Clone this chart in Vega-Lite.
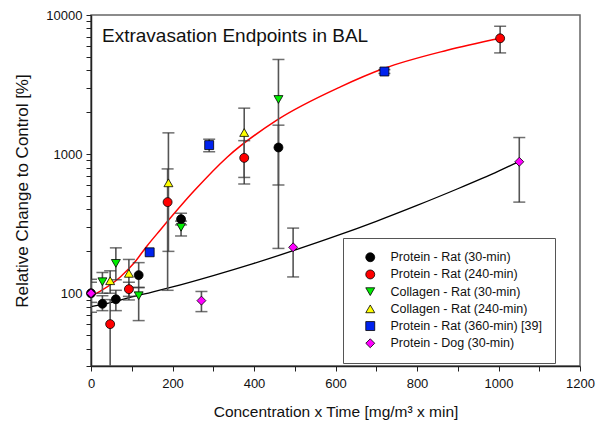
{
  "$schema": "https://vega.github.io/schema/vega-lite/v6.json",
  "width": 489,
  "height": 351,
  "autosize": {"type": "none"},
  "padding": {"left": 91, "top": 15, "right": 16, "bottom": 59},
  "background": "white",
  "title": {"text": "Extravasation Endpoints in BAL", "anchor": "start", "frame": "group", "orient": "top", "offset": -52, "baseline": "alphabetic", "dx": 11, "fontSize": 19, "fontWeight": "normal", "font": "Liberation Sans", "color": "#111"},
  "config": {
    "view": {"stroke": "#666", "strokeWidth": 1.5},
    "font": "Liberation Sans",
    "axis": {"labelFont": "Liberation Sans", "titleFont": "Liberation Sans", "labelColor": "#111", "titleColor": "#111", "titleFontWeight": "normal", "domainColor": "#222", "tickColor": "#222", "grid": false, "domainWidth": 1.5}
  },
  "datasets": {
    "pts": [
      {"series": "Protein - Rat (30-min)", "x": 0, "y": 100, "lo": 86, "hi": 120},
      {"series": "Protein - Rat (30-min)", "x": 28, "y": 84, "lo": 75, "hi": 96},
      {"series": "Protein - Rat (30-min)", "x": 61, "y": 90.5, "lo": 75, "hi": 105},
      {"series": "Protein - Rat (30-min)", "x": 117, "y": 135, "lo": 110, "hi": 166},
      {"series": "Protein - Rat (30-min)", "x": 221, "y": 341, "lo": 310, "hi": 376},
      {"series": "Protein - Rat (30-min)", "x": 460, "y": 1116, "lo": 600, "hi": 1615},
      {"series": "Protein - Rat (240-min)", "x": 47, "y": 60, "lo": 20, "hi": 90},
      {"series": "Protein - Rat (240-min)", "x": 93, "y": 107, "lo": 95, "hi": 120},
      {"series": "Protein - Rat (240-min)", "x": 188, "y": 452, "lo": 105, "hi": 783},
      {"series": "Protein - Rat (240-min)", "x": 376, "y": 940, "lo": 610, "hi": 1250},
      {"series": "Protein - Rat (240-min)", "x": 1004, "y": 6800, "lo": 5340, "hi": 8300},
      {"series": "Collagen - Rat (30-min)", "x": 28, "y": 121, "lo": 100, "hi": 141},
      {"series": "Collagen - Rat (30-min)", "x": 61, "y": 164, "lo": 125, "hi": 212},
      {"series": "Collagen - Rat (30-min)", "x": 117, "y": 96, "lo": 63.6, "hi": 110},
      {"series": "Collagen - Rat (30-min)", "x": 221, "y": 298, "lo": 258, "hi": 330},
      {"series": "Collagen - Rat (30-min)", "x": 460, "y": 2470, "lo": 210, "hi": 4790},
      {"series": "Collagen - Rat (240-min)", "x": 47, "y": 123, "lo": 100, "hi": 145},
      {"series": "Collagen - Rat (240-min)", "x": 93, "y": 139, "lo": 89.5, "hi": 175},
      {"series": "Collagen - Rat (240-min)", "x": 190, "y": 622, "lo": 200, "hi": 1422},
      {"series": "Collagen - Rat (240-min)", "x": 376, "y": 1430, "lo": 680, "hi": 2140},
      {"series": "Protein - Rat (360-min) [39]", "x": 144, "y": 197},
      {"series": "Protein - Rat (360-min) [39]", "x": 290, "y": 1161, "lo": 1040, "hi": 1280},
      {"series": "Protein - Rat (360-min) [39]", "x": 720, "y": 3925, "lo": 3800, "hi": 4050},
      {"series": "Protein - Dog (30-min)", "x": 0, "y": 100, "lo": 73, "hi": 126},
      {"series": "Protein - Dog (30-min)", "x": 271, "y": 88.5, "lo": 73.8, "hi": 103},
      {"series": "Protein - Dog (30-min)", "x": 496, "y": 214, "lo": 131, "hi": 294},
      {"series": "Protein - Dog (30-min)", "x": 1051, "y": 881, "lo": 452, "hi": 1316}
    ],
    "curves": [
      {"fit": "red", "x": 0, "y": 95}, {"fit": "red", "x": 72, "y": 131}, {"fit": "red", "x": 105, "y": 164},
      {"fit": "red", "x": 137, "y": 218}, {"fit": "red", "x": 170, "y": 285}, {"fit": "red", "x": 252, "y": 540},
      {"fit": "red", "x": 334, "y": 950}, {"fit": "red", "x": 456, "y": 1754},
      {"fit": "red", "x": 612, "y": 3042}, {"fit": "red", "x": 718, "y": 4120},
      {"fit": "red", "x": 874, "y": 5580}, {"fit": "red", "x": 1004, "y": 6810},
      {"fit": "black", "x": 0, "y": 80}, {"fit": "black", "x": 50, "y": 86}, {"fit": "black", "x": 100, "y": 94},
      {"fit": "black", "x": 150, "y": 102}, {"fit": "black", "x": 200, "y": 111}, {"fit": "black", "x": 300, "y": 134},
      {"fit": "black", "x": 400, "y": 164}, {"fit": "black", "x": 500, "y": 204}, {"fit": "black", "x": 600, "y": 257},
      {"fit": "black", "x": 700, "y": 329}, {"fit": "black", "x": 800, "y": 428}, {"fit": "black", "x": 900, "y": 564},
      {"fit": "black", "x": 1000, "y": 755}, {"fit": "black", "x": 1049, "y": 881}
    ]
  },
  "layer": [
    {
      "mark": {"type": "rule", "color": "#555", "strokeWidth": 1.3, "strokeDash": [11, 5]},
      "encoding": {"y": {"datum": 100, "type": "quantitative", "scale": {"type": "log", "domain": [30, 10000], "nice": false}}}
    },
    {
      "data": {"name": "curves"},
      "transform": [{"filter": "datum.fit === 'red'"}],
      "mark": {"type": "line", "color": "#ff0000", "strokeWidth": 1.5, "interpolate": "monotone"},
      "encoding": {
        "x": {"field": "x", "type": "quantitative"},
        "y": {"field": "y", "type": "quantitative"}
      }
    },
    {
      "data": {"name": "curves"},
      "transform": [{"filter": "datum.fit === 'black'"}],
      "mark": {"type": "line", "color": "#000000", "strokeWidth": 1.3, "interpolate": "monotone"},
      "encoding": {
        "x": {"field": "x", "type": "quantitative"},
        "y": {"field": "y", "type": "quantitative"}
      }
    },
    {
      "data": {"name": "pts"},
      "mark": {"type": "rule", "color": "#555", "strokeWidth": 1.6, "clip": true},
      "encoding": {
        "x": {"field": "x", "type": "quantitative"},
        "y": {"field": "lo", "type": "quantitative"},
        "y2": {"field": "hi"}
      }
    },
    {
      "data": {"name": "pts"},
      "mark": {"type": "tick", "color": "#333", "orient": "horizontal", "size": 12, "thickness": 1.5, "clip": true},
      "encoding": {
        "x": {"field": "x", "type": "quantitative"},
        "y": {"field": "lo", "type": "quantitative"}
      }
    },
    {
      "data": {"name": "pts"},
      "mark": {"type": "tick", "color": "#333", "orient": "horizontal", "size": 12, "thickness": 1.5, "clip": true},
      "encoding": {
        "x": {"field": "x", "type": "quantitative"},
        "y": {"field": "hi", "type": "quantitative"}
      }
    },
    {
      "data": {"name": "pts"},
      "mark": {"type": "point", "filled": true, "stroke": "#000", "strokeWidth": 0.8, "opacity": 1},
      "encoding": {
        "x": {"field": "x", "type": "quantitative", "scale": {"domain": [0, 1200], "nice": false},
          "axis": {"title": "Concentration x Time [mg/m³ x min]", "titleFontSize": 15.5, "labelFontSize": 13, "values": [0,100,200,300,400,500,600,700,800,900,1000,1100,1200], "labelExpr": "datum.value % 200 === 0 ? format(datum.value, 'd') : ''", "tickSize": 5, "labelPadding": 6, "titlePadding": 14, "labelFlush": false}},
        "y": {"field": "y", "type": "quantitative", "scale": {"type": "log", "domain": [30, 10000], "nice": false},
          "axis": {"title": "Relative Change to Control [%]", "titleFontSize": 17, "labelFontSize": 13, "values": [30,40,50,60,70,80,90,100,200,300,400,500,600,700,800,900,1000,2000,3000,4000,5000,6000,7000,8000,9000,10000], "labelExpr": "(datum.value === 100 || datum.value === 1000 || datum.value === 10000) ? format(datum.value, 'd') : ''", "tickSize": 5, "labelPadding": 4, "titlePadding": 14, "labelFlush": false}},
        "color": {"field": "series", "type": "nominal",
          "scale": {"domain": ["Protein - Rat (30-min)", "Protein - Rat (240-min)", "Collagen - Rat (30-min)", "Collagen - Rat (240-min)", "Protein - Rat (360-min) [39]", "Protein - Dog (30-min)"],
            "range": ["#000000", "#ff0000", "#00ee00", "#ffff00", "#0022ee", "#ff00ff"]},
          "legend": {"title": null, "orient": "none", "legendX": 252, "legendY": 223, "padding": 13, "strokeColor": "#555", "fillColor": "white", "labelFontSize": 12.5, "labelFont": "Liberation Sans", "labelColor": "#111", "rowPadding": 4.2, "symbolStrokeColor": "#000", "symbolStrokeWidth": 0.8, "symbolOffset": 8, "labelOffset": 14, "labelLimit": 300}},
        "shape": {"field": "series", "type": "nominal",
          "scale": {"domain": ["Protein - Rat (30-min)", "Protein - Rat (240-min)", "Collagen - Rat (30-min)", "Collagen - Rat (240-min)", "Protein - Rat (360-min) [39]", "Protein - Dog (30-min)"],
            "range": ["circle", "circle", "triangle-down", "triangle-up", "square", "diamond"]}},
        "size": {"field": "series", "type": "nominal",
          "scale": {"domain": ["Protein - Rat (30-min)", "Protein - Rat (240-min)", "Collagen - Rat (30-min)", "Collagen - Rat (240-min)", "Protein - Rat (360-min) [39]", "Protein - Dog (30-min)"],
            "range": [80, 80, 90, 90, 85, 150]}}
      }
    }
  ]
}
